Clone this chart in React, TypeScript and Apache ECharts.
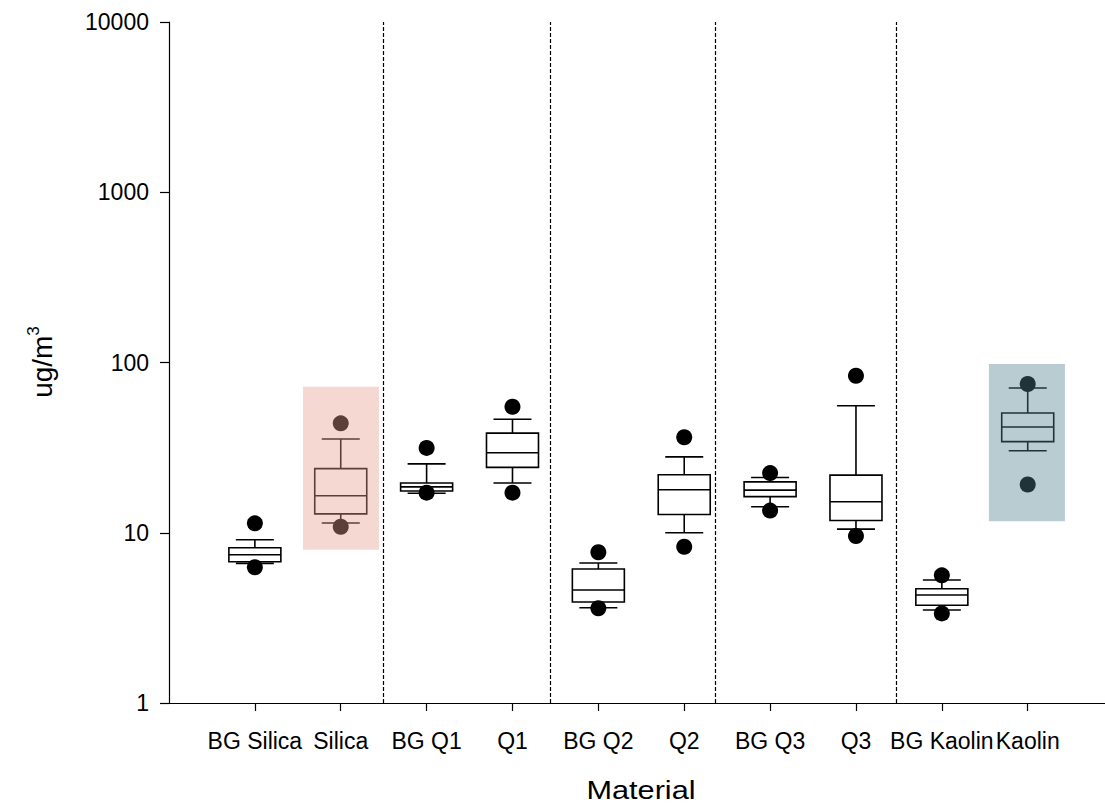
import React, { useEffect, useRef } from "react";
import * as echarts from "echarts";

const categories = ["BG Silica", "Silica", "BG Q1", "Q1", "BG Q2", "Q2", "BG Q3", "Q3", "BG Kaolin", "Kaolin"];
const whiskerLow = [6.61, 11.4, 17.05, 19.6, 3.63, 10.0, 14.2, 10.5, 3.52, 30.3];
const quartile1 = [6.76, 12.9, 17.6, 24.2, 3.92, 12.8, 16.3, 11.8, 3.75, 34.3];
const medians = [7.43, 16.5, 18.6, 29.5, 4.61, 17.9, 17.8, 15.2, 4.31, 41.8];
const quartile3 = [8.17, 23.8, 19.6, 38.5, 6.12, 21.9, 19.9, 21.8, 4.69, 50.5];
const whiskerHigh = [9.1, 35.5, 25.4, 46.4, 6.64, 27.9, 21.1, 55.7, 5.28, 70.8];
const outlierHigh = [11.36, 43.9, 31.5, 55.0, 7.68, 36.4, 22.4, 83.6, 5.62, 74.8];
const outlierLow = [6.27, 10.85, 17.2, 17.2, 3.6, 8.28, 13.5, 9.57, 3.36, 19.2];
const dividers = [2.5, 4.44, 6.36, 8.47];
const yTicks = [1, 10, 100, 1000, 10000];
// highlight regions: [xStart, xEnd, yLow, yHigh]
const highlightSilica = [1.56, 2.445, 7.95, 72.1];
const highlightKaolin = [9.548, 10.433, 11.7, 98];

const FONT = "'Liberation Sans', Arial, sans-serif";

export default function App() {
  const ref = useRef<HTMLDivElement>(null);
  useEffect(() => {
    document.body.style.margin = "0";
    const chart = echarts.init(ref.current!, null, { renderer: "svg" });
    const positions = categories.map((_, i) => i + 1);
    const boxData = positions.map((p, i) => [p, whiskerLow[i], quartile1[i], medians[i], quartile3[i], whiskerHigh[i]]);
    const outData: number[][] = [];
    positions.forEach((p, i) => {
      outData.push([p, outlierHigh[i]]);
      outData.push([p, outlierLow[i]]);
    });
    const hlData = [
      [...highlightSilica, 0],
      [...highlightKaolin, 1],
    ];
    const hlColors = ["#E69E8C", "#4E808C"];

    chart.setOption({
      animation: false,
      textStyle: { fontFamily: FONT },
      grid: { left: 169, right: 0, top: 22, bottom: 103 },
      xAxis: {
        type: "value",
        min: 0,
        max: 10.9,
        interval: 1,
        splitLine: { show: false },
        axisLine: { show: true, lineStyle: { color: "#000", width: 1.2 } },
        axisTick: { show: true, customValues: positions, length: 8, inside: false, lineStyle: { color: "#000", width: 1.2 } },
        axisLabel: {
          customValues: positions,
          interval: 0,
          hideOverlap: false,
          formatter: (v: number) => categories[Math.round(v) - 1] ?? "",
          color: "#000",
          fontSize: 23,
          fontFamily: FONT,
          margin: 26,
        },
      },
      yAxis: {
        type: "log",
        logBase: 10,
        min: 1,
        max: 10000,
        splitLine: { show: false },
        axisLine: { show: true, lineStyle: { color: "#000", width: 1.2 } },
        axisTick: { show: true, customValues: yTicks, length: 9, inside: false, lineStyle: { color: "#000", width: 1.2 } },
        axisLabel: {
          customValues: yTicks,
          formatter: (v: number) => String(Math.round(v)),
          color: "#000",
          fontSize: 23,
          fontFamily: FONT,
          margin: 20,
        },
      },
      graphic: [
        {
          type: "text",
          x: 42,
          y: 362,
          rotation: Math.PI / 2,
          style: {
            text: "{a|ug/m}{b|3}",
            align: "center",
            verticalAlign: "middle",
            fill: "#000",
            rich: {
              a: { fontSize: 28, fontFamily: FONT, fill: "#000", lineHeight: 34 },
              b: { fontSize: 17, fontFamily: FONT, fill: "#000", verticalAlign: "top", lineHeight: 34, padding: [0, 0, 16, 0] },
            },
          },
        },
        {
          type: "text",
          x: 641,
          y: 790,
          scaleX: 1.18,
          style: { text: "Material", fontSize: 26, fontFamily: FONT, fill: "#000", align: "center", verticalAlign: "middle" },
        },
      ],
      series: [
        {
          type: "custom",
          z: 2,
          data: boxData,
          encode: { x: 0, y: [1, 2, 3, 4, 5] },
          renderItem: (params: any, api: any) => {
            const x = api.value(0);
            const pt = (v: number) => api.coord([x, v]);
            const [cx, yLo] = pt(api.value(1));
            const yQ1 = pt(api.value(2))[1];
            const yMed = pt(api.value(3))[1];
            const yQ3 = pt(api.value(4))[1];
            const yHi = pt(api.value(5))[1];
            const bw = 52;
            const cw = 38;
            const st = { stroke: "#000", lineWidth: 1.6, fill: "none" };
            return {
              type: "group",
              children: [
                { type: "line", shape: { x1: cx, y1: yLo, x2: cx, y2: yQ1 }, style: st },
                { type: "line", shape: { x1: cx, y1: yQ3, x2: cx, y2: yHi }, style: st },
                { type: "line", shape: { x1: cx - cw / 2, y1: yLo, x2: cx + cw / 2, y2: yLo }, style: st },
                { type: "line", shape: { x1: cx - cw / 2, y1: yHi, x2: cx + cw / 2, y2: yHi }, style: st },
                { type: "rect", shape: { x: cx - bw / 2, y: yQ3, width: bw, height: yQ1 - yQ3 }, style: st },
                { type: "line", shape: { x1: cx - bw / 2, y1: yMed, x2: cx + bw / 2, y2: yMed }, style: st },
              ],
            };
          },
          markLine: {
            silent: true,
            symbol: "none",
            label: { show: false },
            lineStyle: { color: "#000", type: [4, 2], width: 1.2 },
            data: dividers.map((d) => ({ xAxis: d })),
          },
        },
        {
          type: "scatter",
          z: 3,
          data: outData,
          symbol: "circle",
          symbolSize: 16,
          itemStyle: { color: "#000", opacity: 1 },
        },
        {
          type: "custom",
          z: 5,
          data: hlData,
          encode: { x: [0, 1], y: [2, 3] },
          renderItem: (params: any, api: any) => {
            const p0 = api.coord([api.value(0), api.value(3)]);
            const p1 = api.coord([api.value(1), api.value(2)]);
            return {
              type: "rect",
              shape: { x: p0[0], y: p0[1], width: p1[0] - p0[0], height: p1[1] - p0[1] },
              style: { fill: hlColors[api.value(4)], opacity: 0.4 },
            };
          },
        },
      ],
    });
    return () => chart.dispose();
  }, []);
  return <div ref={ref} style={{ position: "absolute", left: 0, top: 0, width: 1105, height: 806 }} />;
}
